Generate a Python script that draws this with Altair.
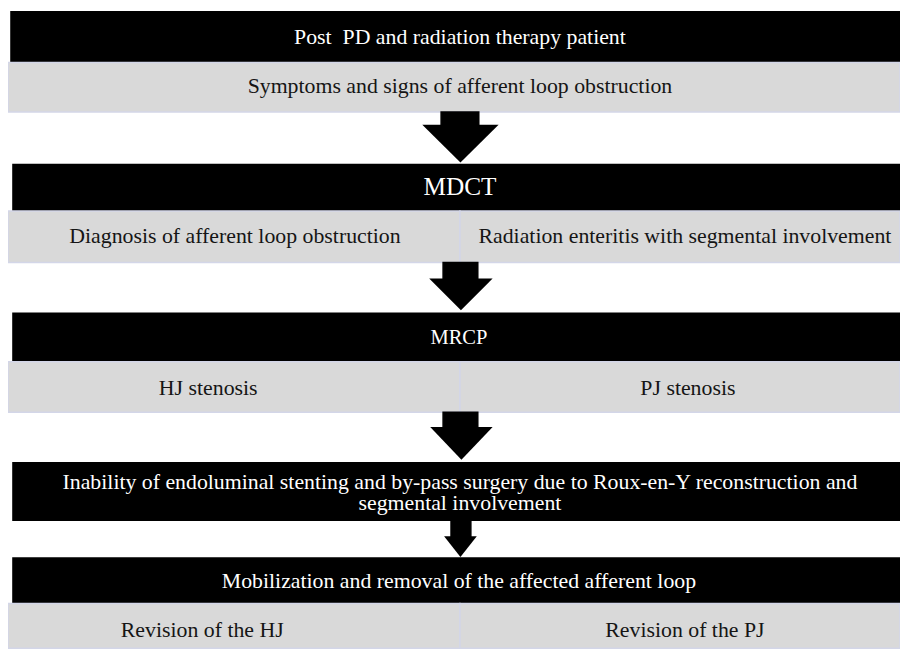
import altair as alt
import pandas as pd

# ---- content ----
row_kind = ["black", "gray", "black", "gray2", "black", "gray2", "black", "black", "gray2"]
row_top = [9, 60, 163, 210, 313, 362, 464, 560, 606]
row_bottom = [59, 110, 210, 262, 362, 413, 522, 606, 651]

texts = [
    "Post\u00a0 PD and radiation therapy patient",
    "Symptoms and signs of afferent loop obstruction",
    "MDCT",
    "Diagnosis of afferent loop obstruction",
    "Radiation enteritis with segmental involvement",
    "MRCP",
    "HJ stenosis",
    "PJ stenosis",
    "Inability of endoluminal stenting and by-pass surgery due to Roux-en-Y reconstruction and",
    "segmental involvement",
    "Mobilization and removal of the affected afferent loop",
    "Revision of the HJ",
    "Revision of the PJ",
]
text_x = [464, 464, 464, 237, 691, 463, 210, 694, 464, 464, 463, 204, 691]
text_y = [34, 84, 186, 235, 235, 338, 389, 389, 483, 505, 583, 633, 633]
text_color = ["white", "#151515", "white", "#151515", "#151515", "white", "#151515", "#151515",
              "white", "white", "white", "#151515", "#151515"]
text_size = [22, 22, 25.5, 22, 22, 20.7, 22, 22, 22, 22, 22, 22, 22]

# arrows: shaft left/right, shaft top, head top, head left/right, tip
arrow_shaft_l = [445, 447, 447, 455]
arrow_shaft_r = [483, 482, 482, 475]
arrow_top = [110, 262, 413, 522]
arrow_head_top = [123, 278, 428, 538]
arrow_head_l = [426, 433, 434, 448]
arrow_head_r = [503, 497, 497, 481]
arrow_tip = [161, 310, 461, 559]

DIV = 464
BLACK_LEFT = [11, 13, 13, 13, 13]

# ---- build tables ----
rects = []
bi = 0
for k, t, b in zip(row_kind, row_top, row_bottom):
    if k == "black":
        rects.append(dict(x0=BLACK_LEFT[bi], x1=908, y0=t, y1=b, fill="#000000", stroke="#000000"))
        bi += 1
    elif k == "gray":
        rects.append(dict(x0=8, x1=908, y0=t, y1=b, fill="#d9d9d9", stroke="#d3d6e8"))
    else:
        rects.append(dict(x0=8, x1=DIV, y0=t, y1=b, fill="#d9d9d9", stroke="#d3d6e8"))
        rects.append(dict(x0=DIV, x1=908, y0=t, y1=b, fill="#d9d9d9", stroke="#d3d6e8"))
for i in range(len(arrow_top)):
    rects.append(dict(x0=arrow_shaft_l[i], x1=arrow_shaft_r[i], y0=arrow_top[i],
                      y1=arrow_head_top[i] + 1, fill="#000000", stroke="#000000"))
rect_df = pd.DataFrame(rects)

heads = []
for i in range(len(arrow_top)):
    wd = arrow_head_r[i] - arrow_head_l[i]
    hd = arrow_tip[i] - arrow_head_top[i]
    h = hd / wd
    heads.append(dict(
        x=(arrow_head_l[i] + arrow_head_r[i]) / 2,
        y=(arrow_head_top[i] + arrow_tip[i]) / 2,
        shape=f"M-1,{-h:.4f}L1,{-h:.4f}L0,{h:.4f}Z",
        size=wd * wd,
    ))
head_df = pd.DataFrame(heads)

text_df = pd.DataFrame(dict(t=texts, x=text_x, y=text_y, c=text_color, s=text_size))

W, H = 900, 643
xs = alt.Scale(domain=[8, 8 + W], nice=False, zero=False)
ys = alt.Scale(domain=[8, 8 + H], nice=False, zero=False, reverse=True)

rect_layer = alt.Chart(rect_df).mark_rect(strokeWidth=1.5).encode(
    x=alt.X("x0:Q", scale=xs, axis=None),
    x2="x1:Q",
    y=alt.Y("y0:Q", scale=ys, axis=None),
    y2="y1:Q",
    fill=alt.Fill("fill:N", scale=None),
    stroke=alt.Stroke("stroke:N", scale=None),
)

head_layer = alt.Chart(head_df).mark_point(
    filled=True, color="#000000", opacity=1, strokeWidth=0
).encode(
    x=alt.X("x:Q", scale=xs, axis=None),
    y=alt.Y("y:Q", scale=ys, axis=None),
    shape=alt.Shape("shape:N", scale=None),
    size=alt.Size("size:Q", scale=None),
)

text_layer = alt.Chart(text_df).mark_text(
    font="'Liberation Serif', 'Times New Roman', Times, serif",
    baseline="middle", align="center"
).encode(
    x=alt.X("x:Q", scale=xs, axis=None),
    y=alt.Y("y:Q", scale=ys, axis=None),
    text="t:N",
    color=alt.Color("c:N", scale=None),
    size=alt.Size("s:Q", scale=None),
)

chart = alt.layer(rect_layer, head_layer, text_layer).properties(
    width=W, height=H, padding=0, autosize="none", background="white"
).configure_view(strokeWidth=0)

chart.save("out.html", embed_options={"renderer": "svg", "actions": False})
